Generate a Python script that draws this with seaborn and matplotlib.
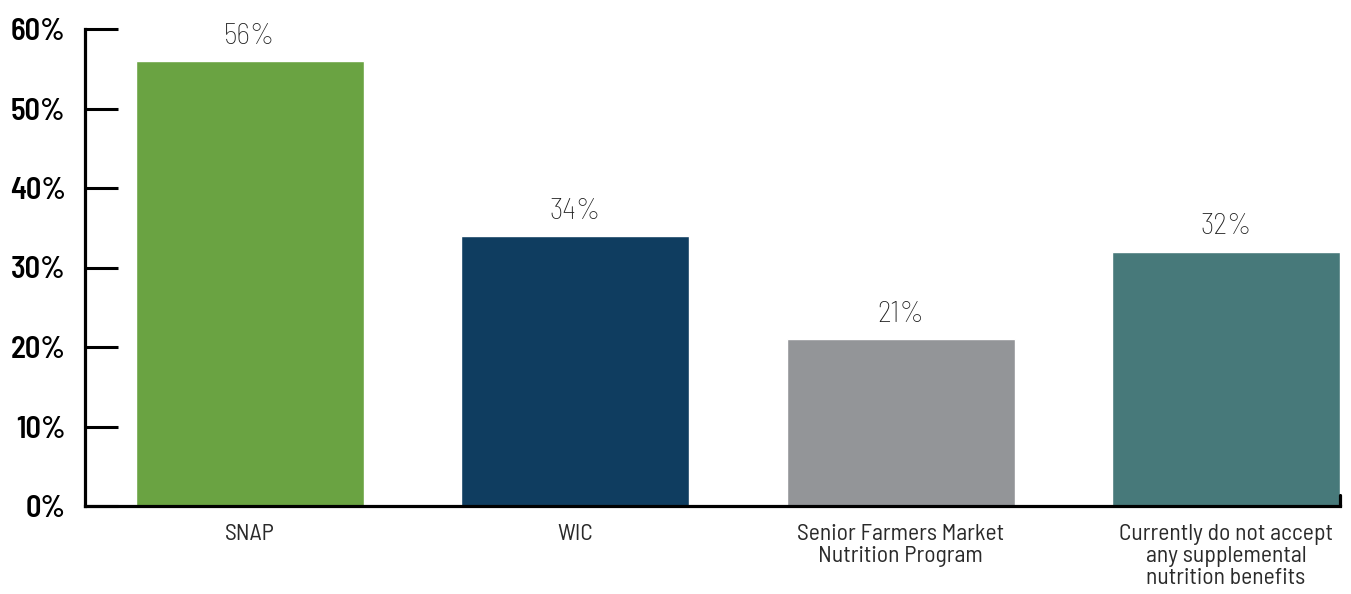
import matplotlib
matplotlib.use("Agg")
import matplotlib.pyplot as plt
import seaborn as sns
import pandas as pd
from matplotlib.font_manager import fontManager

categories = ["SNAP", "WIC", "Senior Farmers Market\nNutrition Program",
              "Currently do not accept\nany supplemental\nnutrition benefits"]
values = [56, 34, 21, 32]
colors = ["#6aa342", "#0f3d60", "#939598", "#47797a"]
yticks = [0, 10, 20, 30, 40, 50, 60]
ytick_labels = ["0%", "10%", "20%", "30%", "40%", "50%", "60%"]

sns.set_theme(style="white")
names = {f.name for f in fontManager.ttflist}
fam = "DejaVu Sans"
for cand in ["Barlow Semi Condensed", "Saira Semi Condensed", "Roboto Condensed",
             "Encode Sans Semi Condensed", "Liberation Sans Narrow"]:
    if cand in names:
        fam = cand
        break
plt.rcParams["font.family"] = [fam, "DejaVu Sans"]

df = pd.DataFrame({"cat": categories, "val": values})

fig = plt.figure(figsize=(13.51, 5.94), dpi=100)
ax = fig.add_axes([85/1351, 1-506/594, (1340-85)/1351, (506-29)/594])

sns.barplot(data=df, x="cat", y="val", hue="cat", palette=colors, legend=False,
            width=0.7, saturation=1, ax=ax)

for c in ax.containers:
    ax.bar_label(c, labels=[f"{v:.0f}%" for v in c.datavalues], padding=8,
                 fontsize=21.5, color="#1e1e1e", fontweight="light")

ax.set_xlim(-0.507, 3.35)
ax.set_ylim(0, 60)
ax.set_yticks(yticks)
ax.set_yticklabels(ytick_labels, fontsize=22, fontweight="semibold", color="black")
ax.tick_params(axis="y", direction="in", length=24, width=2.2, color="black", pad=14, left=True)
ax.tick_params(axis="x", length=0, pad=13, labelsize=17, labelcolor="#2a2a2a")
for t in ax.get_xticklabels():
    t.set_linespacing(1.06)
ax.set_xlabel("")
ax.set_ylabel("")
for s in ["top", "right"]:
    ax.spines[s].set_visible(False)
for s in ["left", "bottom"]:
    ax.spines[s].set_color("black")
    ax.spines[s].set_linewidth(2.3)
ax.axvline(3.35, ymin=0, ymax=0.024, color="black", lw=2.3, clip_on=False)

fig.savefig("out.png", dpi=100)
